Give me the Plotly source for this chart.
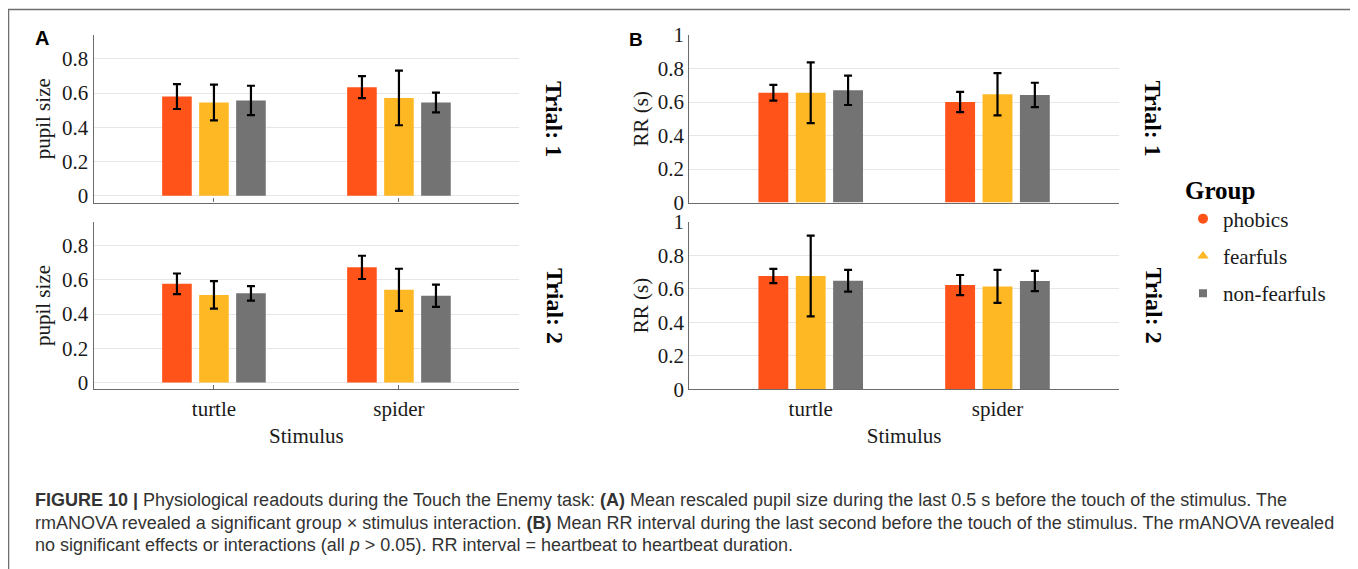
import plotly.graph_objects as go

# ---------------- data ----------------
stimuli = ["turtle", "spider"]
groups = ["phobics", "fearfuls", "non-fearfuls"]

# Panel A: rescaled pupil size (mean, error half-width) per group, [turtle, spider]
pupil_t1_mean = [[0.580, 0.635], [0.545, 0.572], [0.557, 0.545]]
pupil_t1_err = [[0.073, 0.064], [0.105, 0.160], [0.086, 0.058]]
pupil_t2_mean = [[0.577, 0.673], [0.512, 0.542], [0.521, 0.507]]
pupil_t2_err = [[0.060, 0.068], [0.080, 0.123], [0.042, 0.065]]

# Panel B: RR interval in seconds
rr_t1_mean = [[0.655, 0.600], [0.655, 0.646], [0.670, 0.642]]
rr_t1_err = [[0.047, 0.060], [0.181, 0.126], [0.088, 0.073]]
rr_t2_mean = [[0.676, 0.622], [0.676, 0.614], [0.648, 0.646]]
rr_t2_err = [[0.042, 0.060], [0.241, 0.098], [0.065, 0.060]]

pupil_ticks = [0, 0.2, 0.4, 0.6, 0.8]
rr_ticks = [0, 0.2, 0.4, 0.6, 0.8, 1]
rr_ticklabels = ["0", "0.2", "0.4", "0.6", "0.8", "1"]

caption_lines = [
    "<b>FIGURE 10 |</b> Physiological readouts during the Touch the Enemy task: <b>(A)</b> Mean rescaled pupil size during the last 0.5 s before the touch of the stimulus. The",
    "rmANOVA revealed a significant group \u00d7 stimulus interaction. <b>(B)</b> Mean RR interval during the last second before the touch of the stimulus. The rmANOVA revealed",
    "no significant effects or interactions (all <i>p</i> &gt; 0.05). RR interval = heartbeat to heartbeat duration.",
]

# ---------------- style ----------------
colors = ["#FF531A", "#FDB824", "#737373"]
symbols = ["circle", "triangle-up", "square"]
msizes = [10, 10, 8]
W, H = 1358, 569
OFF = 8  # page body margin in the browser
SERIF = "Liberation Serif, Times New Roman, serif"
SANS = "Liberation Sans, Arial, sans-serif"
AXIS_COL = "#6b6b6b"
GRID_COL = "#e6e6e6"
TXT = "#1a1a1a"


def px_x(p):
    return (p - OFF) / W


def px_y(p):
    return 1 - (p - OFF) / H


fig = go.Figure()

panels = [
    ("x", "y", pupil_t1_mean, pupil_t1_err),
    ("x2", "y2", pupil_t2_mean, pupil_t2_err),
    ("x3", "y3", rr_t1_mean, rr_t1_err),
    ("x4", "y4", rr_t2_mean, rr_t2_err),
]

for xa, ya, means, errs in panels:
    for gi, g in enumerate(groups):
        fig.add_trace(go.Bar(
            x=stimuli, y=means[gi], name=g, xaxis=xa, yaxis=ya,
            marker=dict(color=colors[gi], line=dict(width=0)),
            error_y=dict(type="data", array=errs[gi], visible=True,
                         color="black", thickness=2.2, width=4),
            showlegend=False, offsetgroup=str(gi),
        ))

# legend entries with marker symbols
for gi, g in enumerate(groups):
    fig.add_trace(go.Scatter(
        x=[None], y=[None], mode="markers", name=g, xaxis="x4", yaxis="y4",
        marker=dict(color=colors[gi], symbol=symbols[gi], size=msizes[gi]),
        legendgroup=g, showlegend=True,
    ))

# domains (px)
xA = [px_x(93.7), px_x(519.2)]
xB = [px_x(689.3), px_x(1118.9)]
yTop = [px_y(202.5), px_y(35)]
yBot = [px_y(389.3), px_y(221.7)]

xcommon = dict(type="category", range=[-0.65, 1.65], showline=True,
               linecolor=AXIS_COL, linewidth=1.3, showgrid=False,
               tickfont=dict(family=SERIF, size=21, color=TXT),
               title_font=dict(family=SERIF, size=21, color=TXT),
               zeroline=False, fixedrange=True, automargin=False)
ycommon = dict(showline=True, linecolor=AXIS_COL, linewidth=1.3,
               showgrid=True, gridcolor=GRID_COL, gridwidth=1,
               zeroline=False, ticks="",
               tickfont=dict(family=SERIF, size=21, color=TXT),
               title_font=dict(family=SERIF, size=21, color=TXT),
               fixedrange=True, automargin=False)

fig.update_layout(
    template="plotly_white",
    xaxis=dict(xcommon, domain=xA, anchor="y", showticklabels=False,
               ticks="inside", ticklen=4, tickcolor=AXIS_COL),
    xaxis2=dict(xcommon, domain=xA, anchor="y2", ticks="inside", ticklen=4,
                tickcolor=AXIS_COL, title=dict(text="Stimulus", standoff=8)),
    xaxis3=dict(xcommon, domain=xB, anchor="y3", showticklabels=False),
    xaxis4=dict(xcommon, domain=xB, anchor="y4",
                title=dict(text="Stimulus", standoff=8)),
    yaxis=dict(ycommon, domain=yTop, anchor="x", range=[-0.04, 0.94],
               tickvals=pupil_ticks, title=dict(text="pupil size", standoff=5)),
    yaxis2=dict(ycommon, domain=yBot, anchor="x2", range=[-0.04, 0.94],
                tickvals=pupil_ticks, title=dict(text="pupil size", standoff=5)),
    yaxis3=dict(ycommon, domain=yTop, anchor="x3", range=[0, 1],
                tickvals=rr_ticks, ticktext=rr_ticklabels,
                title=dict(text="RR (s)", standoff=3)),
    yaxis4=dict(ycommon, domain=yBot, anchor="x4", range=[0, 1],
                tickvals=rr_ticks, ticktext=rr_ticklabels,
                title=dict(text="RR (s)", standoff=3)),
    barmode="group", bargap=0.4, bargroupgap=0.2,
    width=W, height=H, margin=dict(l=0, r=0, t=0, b=0, pad=0, autoexpand=False),
    paper_bgcolor="white", plot_bgcolor="white",
    legend=dict(
        x=px_x(1183), y=px_y(166), xanchor="left", yanchor="top",
        title=dict(text="<b>Group</b>", font=dict(family=SERIF, size=25, color="black")),
        font=dict(family=SERIF, size=21, color=TXT),
        tracegroupgap=7, bgcolor="rgba(0,0,0,0)",
    ),
)

annotations = []
# panel letters
annotations.append(dict(text="<b>A</b>", x=px_x(42), y=px_y(38), xref="paper", yref="paper",
                        xanchor="center", yanchor="middle",
                        showarrow=False, font=dict(family=SANS, size=20, color="black")))
annotations.append(dict(text="<b>B</b>", x=px_x(636), y=px_y(39), xref="paper", yref="paper",
                        xanchor="center", yanchor="middle",
                        showarrow=False, font=dict(family=SANS, size=19, color="black")))
# trial facet labels
for xc in (554.6, 1153):
    for yc, lab in ((118.6, "Trial: 1"), (305.5, "Trial: 2")):
        annotations.append(dict(text="<b>" + lab + "</b>", x=px_x(xc), y=px_y(yc),
                                xref="paper", yref="paper", showarrow=False, textangle=90,
                                xanchor="center", yanchor="middle",
                                font=dict(family=SERIF, size=24, color="black")))
# caption
for i, (line, yc) in enumerate(zip(caption_lines, (500, 523, 545))):
    annotations.append(dict(text=line, x=px_x(33), y=px_y(yc), xref="paper", yref="paper",
                            xanchor="left", yanchor="middle", showarrow=False,
                            font=dict(family=SANS, size=18, color="#333333")))
fig.update_layout(annotations=annotations)

# outer frame
fig.add_shape(type="rect", xref="paper", yref="paper",
              x0=px_x(8.5), x1=px_x(1355), y0=-0.05, y1=px_y(9.5),
              line=dict(color="#6e6e6e", width=1.5), fillcolor="rgba(0,0,0,0)")

fig.write_html("out.html")
